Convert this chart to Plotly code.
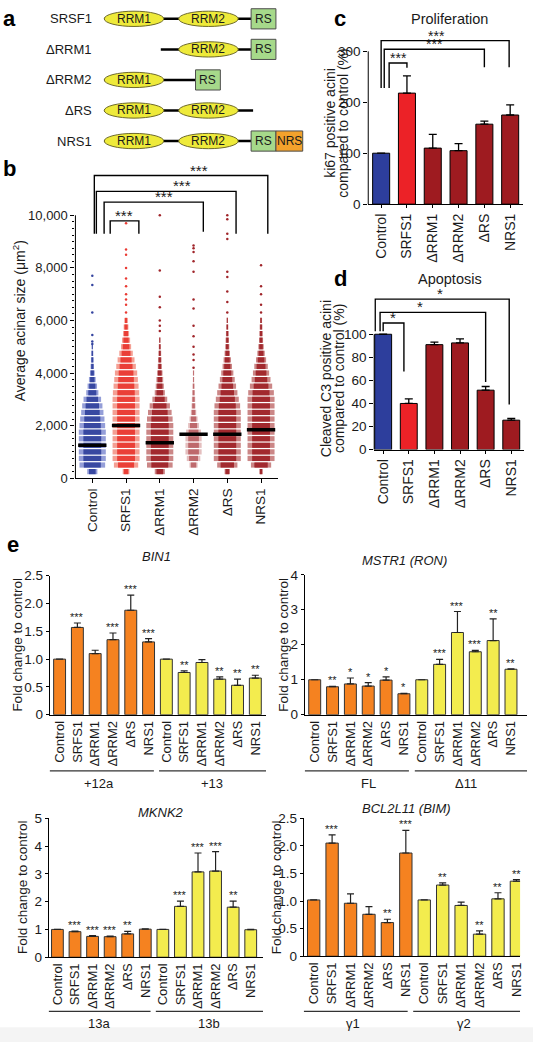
import plotly.graph_objects as go

W, H = 537, 1050
FONT = "Liberation Sans, Arial, Helvetica, sans-serif"
INK = "#1a1a1a"

# ---------------- data ----------------
# panel a : domain architecture (diagram units)
constructs = ["SRSF1", "ΔRRM1", "ΔRRM2", "ΔRS", "NRS1"]
backbone_start = [0, 57, 0, 0, 0]
backbone_end = [148, 148, 92, 150, 148]
construct_domains = [
    [("RRM1", 0, 60), ("RRM2", 75, 135), ("RS", 148, 173)],
    [("RRM2", 75, 135), ("RS", 148, 173)],
    [("RRM1", 0, 60), ("RS", 92, 117)],
    [("RRM1", 0, 60), ("RRM2", 75, 135)],
    [("RRM1", 0, 60), ("RRM2", 75, 135), ("RS", 148, 173), ("NRS", 173, 200)],
]

# panel b : acinar size distributions (row level -> half width of the swarm)
groups = ["Control", "SRFS1", "ΔRRM1", "ΔRRM2", "ΔRS", "NRS1"]
swarm_levels = [250, 500, 750, 1000, 1250, 1500, 1750, 2000, 2250, 2500, 2750, 3000,
                3250, 3500, 3750, 4000, 4250, 4500, 4750, 5000, 5250, 5500, 5750, 6000]
hw_control = [0.15, 0.38, 0.40, 0.40, 0.40, 0.40, 0.40, 0.38, 0.36, 0.33, 0.30, 0.26,
              0.18, 0.14, 0.10, 0.07, 0.05, 0.04, 0.03, 0.02, 0, 0, 0, 0]
hw_srfs1 = [0.10, 0.36, 0.40, 0.40, 0.40, 0.40, 0.40, 0.40, 0.40, 0.40, 0.40, 0.40,
            0.39, 0.37, 0.35, 0.33, 0.29, 0.25, 0.20, 0.15, 0.12, 0.09, 0.07, 0.05]
hw_drrm1 = [0.15, 0.38, 0.40, 0.40, 0.40, 0.40, 0.40, 0.40, 0.38, 0.35, 0.30, 0.22,
            0.15, 0.12, 0.10, 0.08, 0.06, 0.05, 0.04, 0.03, 0.02, 0, 0, 0]
hw_drrm2 = [0.0, 0.12, 0.20, 0.24, 0.24, 0.24, 0.22, 0.16, 0.12, 0.08, 0.06, 0.05,
            0.04, 0.03, 0.02, 0.02, 0, 0, 0, 0, 0, 0, 0, 0]
hw_drs = [0.08, 0.30, 0.40, 0.40, 0.40, 0.40, 0.40, 0.40, 0.40, 0.40, 0.38, 0.34,
          0.30, 0.26, 0.22, 0.18, 0.14, 0.11, 0.08, 0.06, 0.05, 0.04, 0.03, 0.02]
hw_nrs1 = [0.05, 0.30, 0.40, 0.40, 0.40, 0.40, 0.40, 0.40, 0.40, 0.40, 0.40, 0.40,
           0.38, 0.33, 0.28, 0.24, 0.20, 0.15, 0.11, 0.08, 0.06, 0.05, 0.04, 0.03]
out_control = [5100, 5200, 5450, 6300, 7350, 7700]
out_srfs1 = [6300, 6600, 6800, 7000, 7300, 7600, 8000, 8500, 8700, 9700]
out_drrm1 = [5600, 5800, 6000, 6500, 6900, 7900, 10000]
out_drrm2 = [4200, 4500, 4700, 5000, 5400, 5800, 6450, 6800, 7850, 8250, 8600, 8750, 8850]
out_drs = [6300, 6700, 7100, 7650, 7850, 9100, 9300, 9850, 10000]
out_nrs1 = [6300, 6600, 7000, 7300, 8100]
medians_b = [1250, 2000, 1350, 1670, 1670, 1840]
b_ticks = [0, 2000, 4000, 6000, 8000, 10000]
b_ticklabels = ["0", "2,000", "4,000", "6,000", "8,000", "10,000"]

# panel c : proliferation
prolif_mean = [100, 218, 110, 105, 157, 175]
prolif_sem = [0, 34, 27, 14, 6, 20]
# panel d : apoptosis
apop_mean = [100, 40, 91, 92.5, 51.5, 25.5]
apop_sem = [0, 4, 2.2, 3.5, 3.2, 1.5]

# panel e : splicing isoforms
bin1_mean = [1.0, 1.57, 1.10, 1.35, 1.88, 1.31, 1.0, 0.76, 0.94, 0.64, 0.53, 0.66]
bin1_sem = [0, 0.08, 0.06, 0.12, 0.27, 0.06, 0, 0.03, 0.05, 0.04, 0.11, 0.05]
bin1_stars = ["", "***", "", "***", "***", "***", "", "**", "", "**", "**", "**"]
mstr1_mean = [1.0, 0.80, 0.88, 0.82, 0.99, 0.60, 1.0, 1.44, 2.35, 1.80, 2.12, 1.30]
mstr1_sem = [0, 0.01, 0.17, 0.10, 0.09, 0.01, 0, 0.14, 0.60, 0.04, 0.62, 0.01]
mstr1_stars = ["", "**", "*", "*", "*", "*", "", "***", "***", "***", "**", "**"]
mknk2_mean = [1.0, 0.92, 0.75, 0.74, 0.84, 1.01, 1.0, 1.83, 3.07, 3.10, 1.80, 0.99]
mknk2_sem = [0, 0.02, 0.03, 0.02, 0.09, 0.01, 0, 0.19, 0.68, 0.70, 0.22, 0.01]
mknk2_stars = ["", "***", "***", "***", "**", "", "", "***", "***", "***", "**", ""]
bim_mean = [1.02, 2.05, 0.96, 0.76, 0.61, 1.87, 1.02, 1.29, 0.92, 0.40, 1.04, 1.36]
bim_sem = [0, 0.15, 0.17, 0.14, 0.06, 0.41, 0, 0.04, 0.06, 0.06, 0.11, 0.03]
bim_stars = ["", "***", "", "", "**", "***", "", "**", "", "**", "**", "**"]

# ---------------- helpers ----------------
fig = go.Figure()
shapes, annos = [], []


def P(xpx):
    return xpx / W


def Q(ypx):
    return 1 - ypx / H


def text(t, x, y, size=13, xref="paper", yref="paper", color=INK, **kw):
    d = dict(text=t, x=x, y=y, xref=xref, yref=yref, showarrow=False,
             xanchor="center", yanchor="middle",
             font=dict(family=FONT, size=size, color=color))
    d.update(kw)
    annos.append(d)


def axis_style(**kw):
    d = dict(showgrid=False, zeroline=False, linecolor="black", linewidth=1,
             tickcolor="black", tickwidth=1,
             tickfont=dict(family=FONT, size=13, color=INK), fixedrange=True)
    d.update(kw)
    return d


def place(i, xdom, ydom, xr, yr, xkw=None, ykw=None):
    s = "" if i == 1 else str(i)
    fig.update_layout(**{
        "xaxis" + s: axis_style(domain=[P(xdom[0]), P(xdom[1])], range=list(xr),
                                anchor="y" + s, **(xkw or {})),
        "yaxis" + s: axis_style(domain=[Q(ydom[1]), Q(ydom[0])], range=list(yr),
                                anchor="x" + s, **(ykw or {})),
    })
    return "x" + s, "y" + s


def ypaper(v, ydom, yr):
    return Q(ydom[1] - (v - yr[0]) / (yr[1] - yr[0]) * (ydom[1] - ydom[0]))


def axis_line(xpx, ydom, yr, top):
    shapes.append(dict(type="line", xref="paper", yref="paper", x0=P(xpx), x1=P(xpx),
                       y0=ypaper(yr[0], ydom, yr), y1=ypaper(top, ydom, yr),
                       line=dict(color="black", width=1)))


def brackets(xref, yref, spec, size, yshift=-5):
    xs, ys = [], []
    for b in spec:
        xs += [b["l"], b["l"], b["r"], b["r"], None]
        ys += [b["lb"], b["top"], b["top"], b["rb"], None]
        text(b["t"], b["sx"], b["top"], xref=xref, yref=yref, size=size,
             yanchor="bottom", yshift=yshift)
    fig.add_trace(go.Scatter(x=xs, y=ys, mode="lines", line=dict(color="black", width=1.4),
                             xaxis=xref, yaxis=yref, hoverinfo="skip", showlegend=False))


BLUE = "#2d3e9c"
RED = "#ec2227"
DARK = "#9e1b20"
ORANGE = "#f58220"
YEL = "#f3ec4e"

# ---------------- panel a ----------------
xa, ya = place(1, (0, 310), (0, 150), (-105, 205), (4.452, -0.387),
               dict(visible=False), dict(visible=False))
fig.add_trace(go.Scatter(x=[None], y=[None], xaxis=xa, yaxis=ya, showlegend=False))
dom_fill = {"RRM1": "#eeea3a", "RRM2": "#eeea3a", "RS": "#a6d98a", "NRS": "#f3a22c"}
for i, name in enumerate(constructs):
    text(name, -10, i, xref=xa, yref=ya, xanchor="right", size=13)
    shapes.append(dict(type="line", xref=xa, yref=ya, x0=backbone_start[i], x1=backbone_end[i],
                       y0=i, y1=i, line=dict(color="black", width=2.5)))
    for dname, s, e in construct_domains[i]:
        if dname.startswith("RRM"):
            shapes.append(dict(type="circle", xref=xa, yref=ya, x0=s, x1=e, y0=i - 0.25,
                               y1=i + 0.25, fillcolor=dom_fill[dname],
                               line=dict(color="#6e6a2a", width=1)))
        else:
            shapes.append(dict(type="rect", xref=xa, yref=ya, x0=s, x1=e, y0=i - 0.33,
                               y1=i + 0.33, fillcolor=dom_fill[dname],
                               line=dict(color="#4d4d4d", width=1)))
        text(dname, (s + e) / 2, i, xref=xa, yref=ya, size=12)

# ---------------- panel b ----------------
B_XD, B_YD, B_XR, B_YR = (76, 280), (160, 478), (-0.5, 5.5), (0, 11925)
xb, yb = place(2, B_XD, B_YD, B_XR, B_YR,
               dict(tickvals=list(range(6)), ticktext=groups, tickangle=-90, ticks="outside",
                    ticklen=4, showline=True, tickfont=dict(family=FONT, size=13.5, color=INK)),
               dict(tickvals=b_ticks, ticktext=b_ticklabels, ticks="outside", ticklen=4,
                    showline=False,
                    minor=dict(tickvals=list(range(0, 10001, 250)), ticks="outside",
                               ticklen=2, tickcolor="black")))
axis_line(B_XD[0], B_YD, B_YR, 10000)

swarm_hw = [hw_control, hw_srfs1, hw_drrm1, hw_drrm2, hw_drs, hw_nrs1]
swarm_out = [out_control, out_srfs1, out_drrm1, out_drrm2, out_drs, out_nrs1]
outer_col = ["#8f99d6", "#f49a8e", "#c98080", "#cf8a8a", "#c98080", "#c98080"]
inner_col = ["#34449f", "#ea3a33", "#a0252a", "#a0252a", "#a0252a", "#a0252a"]
group_op = [0.95, 0.95, 0.95, 0.55, 0.95, 0.95]
for g in range(6):
    for frac, col in ((1.0, outer_col[g]), (0.66, inner_col[g])):
        xs, ys = [], []
        for lev, hw in zip(swarm_levels, swarm_hw[g]):
            if hw > 0:
                xs += [g - hw * frac, g + hw * frac, None]
                ys += [lev, lev, None]
        fig.add_trace(go.Scatter(x=xs, y=ys, mode="lines", line=dict(color=col, width=5.2),
                                 opacity=group_op[g], xaxis=xb, yaxis=yb,
                                 hoverinfo="skip", showlegend=False))
    fig.add_trace(go.Scatter(x=[g] * len(swarm_out[g]), y=swarm_out[g], mode="markers",
                             marker=dict(size=2.5, color=inner_col[g]), xaxis=xb, yaxis=yb,
                             hoverinfo="skip", showlegend=False))
mx, my = [], []
for g, m in enumerate(medians_b):
    mx += [g - 0.42, g + 0.42, None]
    my += [m, m, None]
fig.add_trace(go.Scatter(x=mx, y=my, mode="lines", line=dict(color="black", width=3.5),
                         xaxis=xb, yaxis=yb, hoverinfo="skip", showlegend=False))
b_brackets = [
    dict(l=0.06, r=5.2, top=11512, lb=9300, rb=9300, sx=3.15, t="***"),
    dict(l=0.12, r=4.26, top=10912, lb=9300, rb=9300, sx=2.65, t="***"),
    dict(l=0.35, r=3.29, top=10500, lb=9300, rb=9370, sx=2.12, t="***"),
    dict(l=0.53, r=1.38, top=9787, lb=9300, rb=9300, sx=0.94, t="***"),
]
brackets(xb, yb, b_brackets, 15)
text("Average acinar size (μm<sup>2</sup>)", P(20), Q(318), size=14, textangle=-90)

# ---------------- panel c ----------------
C_XD, C_YD, C_XR, C_YR = (371, 527), (25, 200), (-0.5, 5.5), (0, 338.7)
xc, yc = place(3, C_XD, C_YD, C_XR, C_YR,
               dict(tickvals=list(range(6)), ticktext=groups, tickangle=-90, ticks="outside",
                    ticklen=3, showline=True, tickfont=dict(family=FONT, size=14, color=INK)),
               dict(tickvals=[0, 100, 200, 300], ticks="outside", ticklen=4, showline=False,
                    tickfont=dict(family=FONT, size=13.5, color=INK)))
axis_line(C_XD[0], C_YD, C_YR, 300)
bar_cols = [BLUE, RED, DARK, DARK, DARK, DARK]
fig.add_trace(go.Bar(x=list(range(6)), y=prolif_mean, width=0.66,
                     marker=dict(color=bar_cols, line=dict(color="black", width=1)),
                     error_y=dict(type="data", symmetric=False, array=prolif_sem,
                                  arrayminus=[0] * 6, color="black", thickness=1.3, width=4),
                     xaxis=xc, yaxis=yc, showlegend=False, hoverinfo="skip"))
c_brackets = [
    dict(l=0.0, r=4.96, top=321, lb=228, rb=269, sx=2.15, t="***"),
    dict(l=0.12, r=4.0, top=304, lb=228, rb=269, sx=2.08, t="***"),
    dict(l=0.31, r=1.0, top=277, lb=228, rb=268, sx=0.69, t="***"),
]
brackets(xc, yc, c_brackets, 14)
text("ki67 positive acini", P(333), Q(118), size=14, textangle=-90)
text("compared to control (%)", P(346), Q(118), size=14, textangle=-90)
text("Proliferation", P(453), Q(12), size=14.5)

# ---------------- panel d ----------------
D_XD, D_YD, D_XR, D_YR = (377, 528), (288, 449), (-0.35, 5.5), (0, 137.6)
xd, yd = place(4, D_XD, D_YD, D_XR, D_YR,
               dict(tickvals=list(range(6)), ticktext=groups, tickangle=-90, ticks="outside",
                    ticklen=3, showline=True, tickfont=dict(family=FONT, size=14, color=INK)),
               dict(tickvals=[0, 20, 40, 60, 80, 100], ticks="outside", ticklen=4,
                    showline=False, tickfont=dict(family=FONT, size=13.5, color=INK)))
axis_line(D_XD[0], D_YD, D_YR, 100)
fig.add_trace(go.Bar(x=list(range(6)), y=apop_mean, width=0.66,
                     marker=dict(color=bar_cols, line=dict(color="black", width=1)),
                     error_y=dict(type="data", symmetric=False, array=apop_sem,
                                  arrayminus=[0] * 6, color="black", thickness=1.3, width=4),
                     xaxis=xd, yaxis=yd, showlegend=False, hoverinfo="skip"))
d_brackets = [
    dict(l=-0.31, r=4.92, top=130.5, lb=102.6, rb=39, sx=2.2, t="*"),
    dict(l=-0.12, r=4.0, top=119, lb=102.6, rb=58.7, sx=1.43, t="*"),
    dict(l=0.0, r=0.81, top=109.7, lb=102.6, rb=67.8, sx=0.39, t="*"),
]
brackets(xd, yd, d_brackets, 15)
text("Cleaved C3 positive acini", P(328), Q(377), size=14, textangle=-90)
text("compared to control (%)", P(341), Q(377), size=14, textangle=-90)
text("Apoptosis", P(453), Q(276), size=14.5)

# ---------------- panel e ----------------
e_data = [
    dict(mean=bin1_mean, sem=bin1_sem, stars=bin1_stars, title="<i>BIN1</i>",
         glabels=["+12a", "+13"], yt=[0, 0.5, 1, 1.5, 2, 2.5],
         ytl=["0", "0.5", "1.0", "1.5", "2.0", "2.5"]),
    dict(mean=mstr1_mean, sem=mstr1_sem, stars=mstr1_stars, title="<i>MSTR1 (RON)</i>",
         glabels=["FL", "Δ11"], yt=[0, 1, 2, 3, 4], ytl=["0", "1", "2", "3", "4"]),
    dict(mean=mknk2_mean, sem=mknk2_sem, stars=mknk2_stars, title="<i>MKNK2</i>",
         glabels=["13a", "13b"], yt=[0, 1, 2, 3, 4, 5], ytl=["0", "1", "2", "3", "4", "5"]),
    dict(mean=bim_mean, sem=bim_sem, stars=bim_stars, title="<i>BCL2L11 (BIM)</i>",
         glabels=["γ1", "γ2"], yt=[0, 0.5, 1, 1.5, 2, 2.5],
         ytl=["0", "0.5", "1.0", "1.5", "2.0", "2.5"]),
]
e_geom = [
    dict(xd=(50, 268), yd=(577, 718), xr=(-0.56, 11.6), yr=(0, 2.5), tt=(158, 557),
         yt=(18, 647), ly=775, lab_y=788, spans=[(-0.56, 5.3), (5.59, 11.6)], lab_x=[2.23, 8.55]),
    dict(xd=(307, 531), yd=(576, 718), xr=(-0.56, 11.9), yr=(0, 4), tt=(408, 562),
         yt=(286, 647), ly=775, lab_y=788, spans=[(-0.56, 5.28), (5.61, 11.9)], lab_x=[3.0, 8.5]),
    dict(xd=(49, 265), yd=(823, 964), xr=(-0.5, 11.7), yr=(0, 5), tt=(162, 817),
         yt=(22, 893), ly=1019, lab_y=1031, spans=[(-0.5, 5.3), (5.6, 11.7)], lab_x=[2.37, 8.6]),
    dict(xd=(306, 524), yd=(823, 963), xr=(-0.54, 11.2), yr=(0, 2.5), tt=(410, 813),
         yt=(278, 893), ly=1019, lab_y=1031, spans=[(-0.54, 5.1), (5.4, 11.2)], lab_x=[2.16, 8.16]),
]
e_cols = [ORANGE] * 6 + [YEL] * 6
for k, (dd, gg) in enumerate(zip(e_data, e_geom)):
    xe, ye = place(5 + k, gg["xd"], gg["yd"], gg["xr"], gg["yr"],
                   dict(tickvals=list(range(12)), ticktext=groups * 2, tickangle=-90, ticks="",
                        showline=True, tickfont=dict(family=FONT, size=13, color=INK)),
                   dict(tickvals=dd["yt"], ticktext=dd["ytl"], ticks="outside", ticklen=3,
                        showline=True, tickfont=dict(family=FONT, size=13.5, color=INK)))
    fig.add_trace(go.Bar(x=list(range(12)), y=dd["mean"], width=0.67,
                         marker=dict(color=e_cols, line=dict(color="#333333", width=1)),
                         error_y=dict(type="data", symmetric=False, array=dd["sem"],
                                      arrayminus=[0] * 12, color="#222222", thickness=1.2,
                                      width=3.5),
                         xaxis=xe, yaxis=ye, showlegend=False, hoverinfo="skip"))
    for j, st in enumerate(dd["stars"]):
        if st:
            text(st, j, dd["mean"][j] + dd["sem"][j], xref=xe, yref=ye, size=11,
                 yanchor="bottom", yshift=-2)
    text(dd["title"], P(gg["tt"][0]), Q(gg["tt"][1]), size=13)
    text("Fold change to control", P(gg["yt"][0]), Q(gg["yt"][1]), size=13.5, textangle=-90)
    for (s0, s1), lab, lx in zip(gg["spans"], dd["glabels"], gg["lab_x"]):
        shapes.append(dict(type="line", xref=xe, yref="paper", x0=s0, x1=s1,
                           y0=Q(gg["ly"]), y1=Q(gg["ly"]), line=dict(color="#333333", width=1.2)))
        text(lab, lx, Q(gg["lab_y"]), xref=xe, size=13)

# panel letters
for lt, lx, ly in (("a", 10, 12), ("b", 10, 164), ("c", 343, 12), ("d", 343, 275), ("e", 13, 545)):
    text("<b>%s</b>" % lt, P(lx), Q(ly), size=22, color="#000000")

# faint grey band at the bottom of the page
shapes.append(dict(type="rect", xref="paper", yref="paper", x0=0, x1=1, y0=0, y1=Q(1035),
                   fillcolor="#f4f4f4", line=dict(width=0), layer="below"))

fig.update_layout(width=W, height=H, margin=dict(l=0, r=0, t=0, b=0),
                  paper_bgcolor="white", plot_bgcolor="rgba(0,0,0,0)", showlegend=False,
                  shapes=shapes, annotations=annos, font=dict(family=FONT, color=INK))
fig.write_html("out.html", config={"displayModeBar": False},
               post_script="document.body.style.margin='0px';"
                           "document.body.style.overflow='hidden';")
